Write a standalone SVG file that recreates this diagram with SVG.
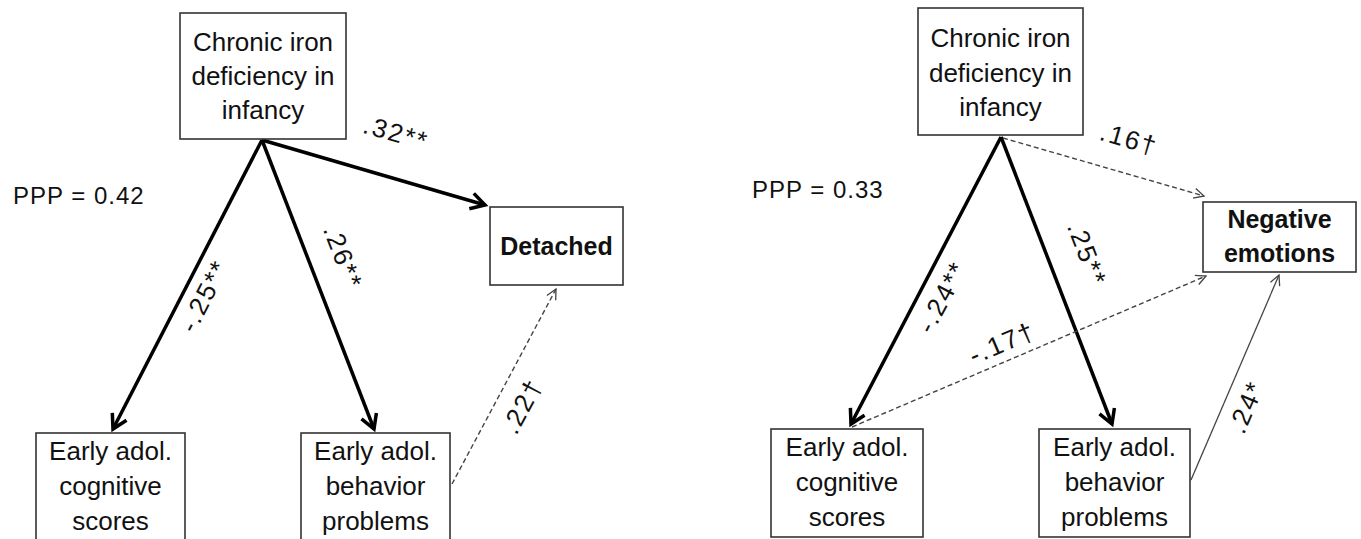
<svg xmlns="http://www.w3.org/2000/svg" width="1361" height="539" viewBox="0 0 1361 539">
<style>
.box{fill:#fff;stroke:#333;stroke-width:1.6}
.t{font-family:"Liberation Sans",Arial,sans-serif;font-size:26px;fill:#111;text-anchor:middle}
.b{font-family:"Liberation Sans",Arial,sans-serif;font-size:25px;font-weight:bold;fill:#111;text-anchor:middle}
.ppp{font-family:"Liberation Sans",Arial,sans-serif;font-size:24px;fill:#111;letter-spacing:1px}
.lab{font-family:"Liberation Sans",Arial,sans-serif;font-size:26px;fill:#111;text-anchor:middle;dominant-baseline:central;letter-spacing:2px}
.thick{stroke:#000;stroke-width:3.5;fill:none;marker-end:url(#big)}
.dash{stroke:#444;stroke-width:1.4;fill:none;stroke-dasharray:5 3;marker-end:url(#small)}
.thin{stroke:#444;stroke-width:1.3;fill:none;marker-end:url(#small)}
</style>
<defs>
<marker id="big" markerUnits="userSpaceOnUse" markerWidth="30" markerHeight="30" viewBox="-20 -15 30 30" refX="0" refY="0" orient="auto">
<path d="M-14,-8 L0,0 L-14,8" fill="none" stroke="#000" stroke-width="3.5" stroke-linejoin="miter"/>
</marker>
<marker id="small" markerUnits="userSpaceOnUse" markerWidth="20" markerHeight="20" viewBox="-14 -10 20 20" refX="0" refY="0" orient="auto">
<path d="M-10,-5 L0,0 L-10,5" fill="none" stroke="#444" stroke-width="1.3"/>
</marker>
</defs>
<rect width="1361" height="539" fill="#fff"/>

<g id="connectors">
<path class="thick" d="M262,140 L113,429"/>
<path class="thick" d="M262,140 L374,429"/>
<path class="thick" d="M262,140 L485,205"/>
<path class="dash" d="M452,484 L556,289"/>
<path class="thick" d="M1001,137 L851,424"/>
<path class="thick" d="M1001,137 L1112,424"/>
<path class="dash" d="M1003,138 L1204,196"/>
<path class="dash" d="M852,427 L1206,276"/>
<path class="thin" d="M1191,480 L1279,275"/>
</g>

<g id="left-labels">
<text class="ppp" x="13" y="204">PPP = 0.42</text>
<text class="lab" transform="translate(396,133) rotate(16)">.32**</text>
<text class="lab" transform="translate(204,296) rotate(-63)">-.25**</text>
<text class="lab" transform="translate(343,257) rotate(69)">.26**</text>
<text class="lab" transform="translate(522,406) rotate(-62)">.22†</text>
</g>

<g id="right-labels">
<text class="ppp" x="752" y="198">PPP = 0.33</text>
<text class="lab" transform="translate(1129,139) rotate(16)">.16†</text>
<text class="lab" transform="translate(942,297) rotate(-62)">-.24**</text>
<text class="lab" transform="translate(1087,254) rotate(69)">.25**</text>
<text class="lab" transform="translate(1002,343) rotate(-23)">-.17†</text>
<text class="lab" transform="translate(1246,407) rotate(-67)">.24*</text>
</g>

<g id="L-iron">
<rect class="box" x="180" y="13" width="166" height="126"/>
<text class="t" x="263" y="51">Chronic iron</text>
<text class="t" x="263" y="85">deficiency in</text>
<text class="t" x="263" y="119">infancy</text>
</g>
<g id="L-detached">
<rect class="box" x="490" y="207" width="133" height="78"/>
<text class="b" x="556.5" y="255">Detached</text>
</g>
<g id="L-cognitive">
<rect class="box" x="36" y="433" width="149" height="120"/>
<text class="t" x="110.5" y="460">Early adol.</text>
<text class="t" x="110.5" y="495">cognitive</text>
<text class="t" x="110.5" y="530">scores</text>
</g>
<g id="L-behavior">
<rect class="box" x="301" y="433" width="149" height="120"/>
<text class="t" x="375.5" y="460">Early adol.</text>
<text class="t" x="375.5" y="495">behavior</text>
<text class="t" x="375.5" y="530">problems</text>
</g>

<g id="R-iron">
<rect class="box" x="918" y="8" width="165" height="127"/>
<text class="t" x="1000.5" y="47">Chronic iron</text>
<text class="t" x="1000.5" y="82">deficiency in</text>
<text class="t" x="1000.5" y="116">infancy</text>
</g>
<g id="R-negative">
<rect class="box" x="1203" y="202" width="153" height="70"/>
<text class="b" x="1279.5" y="228">Negative</text>
<text class="b" x="1279.5" y="262">emotions</text>
</g>
<g id="R-cognitive">
<rect class="box" x="771" y="429" width="152" height="108"/>
<text class="t" x="847" y="456">Early adol.</text>
<text class="t" x="847" y="491">cognitive</text>
<text class="t" x="847" y="526">scores</text>
</g>
<g id="R-behavior">
<rect class="box" x="1039" y="429" width="151" height="108"/>
<text class="t" x="1114.5" y="456">Early adol.</text>
<text class="t" x="1114.5" y="491">behavior</text>
<text class="t" x="1114.5" y="526">problems</text>
</g>
</svg>
